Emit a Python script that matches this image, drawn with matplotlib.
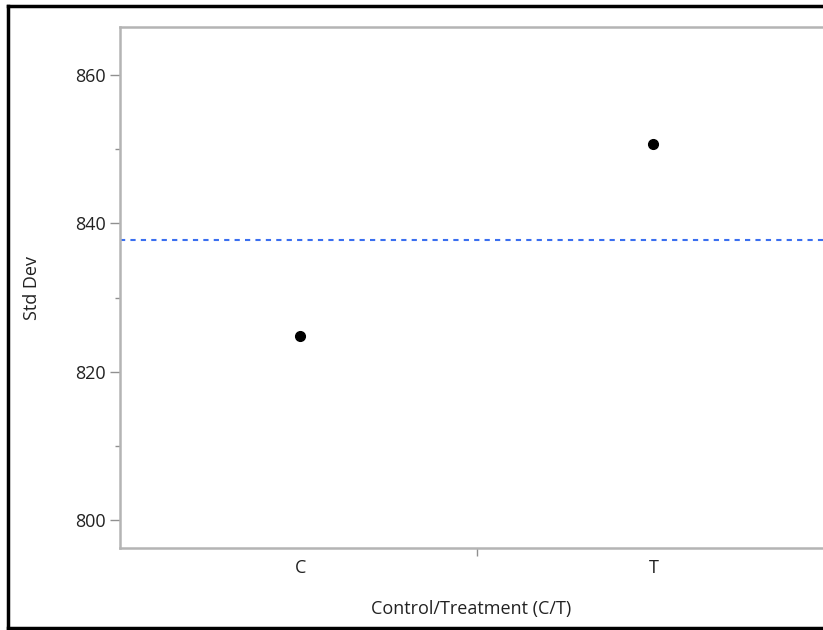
import matplotlib
matplotlib.use("Agg")
import matplotlib.pyplot as plt
import numpy as np
from matplotlib.lines import Line2D
from matplotlib.ticker import MultipleLocator

groups = ["C", "T"]
std_dev = [824.8, 850.7]
overall_mean = 837.8

plt.rcParams["font.family"] = ["Open Sans", "DejaVu Sans"]

fig = plt.figure(figsize=(8.23, 6.30), dpi=100)
ax = fig.add_axes([120 / 823, 1 - 548 / 630, 1 - 120 / 823, (548 - 27) / 630])

x = np.arange(len(groups))
ax.plot(x, std_dev, "o", color="black", ms=7, zorder=3)
ax.axhline(overall_mean, color="#3a6ff0", lw=1.5, ls=(0, (2.5, 2.5)))

ax.set_xlim(-0.51, 1.48)
ax.set_ylim(796.2, 866.5)

ax.set_xticks(x)
ax.set_xticklabels(groups)
ax.set_xticks([0.5], minor=True)
ax.tick_params(axis="x", which="major", length=0, pad=8, labelsize=13, labelcolor="#222222")
ax.tick_params(axis="x", which="minor", length=6, width=1, color="#909090", direction="out")

ax.yaxis.set_major_locator(MultipleLocator(20))
ax.yaxis.set_minor_locator(MultipleLocator(10))
ax.tick_params(axis="y", which="major", length=7, width=1, pad=3, color="#909090", labelsize=13, labelcolor="#222222")
ax.tick_params(axis="y", which="minor", length=3.5, width=1, color="#909090")

for side in ["left", "bottom", "top"]:
    ax.spines[side].set_color("#b4b4b4")
    ax.spines[side].set_linewidth(1.8)
ax.spines["right"].set_visible(False)

ax.set_ylabel("Std Dev", fontsize=13, color="#222222")
ax.yaxis.set_label_coords(-0.112, 0.5)
ax.set_xlabel("Control/Treatment (C/T)", fontsize=13, color="#222222")
ax.xaxis.set_label_coords(0.5, -0.1)

# outer frame of the report
frame_kw = dict(color="black", lw=2.5, transform=fig.transFigure)
fig.add_artist(Line2D([8 / 823, 1], [1 - 6 / 630, 1 - 6 / 630], **frame_kw))
fig.add_artist(Line2D([8 / 823, 8 / 823], [1 - 6 / 630, 1 - 628 / 630], **frame_kw))
fig.add_artist(Line2D([8 / 823, 1], [1 - 628 / 630, 1 - 628 / 630], **frame_kw))

fig.savefig("out.png", dpi=100)
